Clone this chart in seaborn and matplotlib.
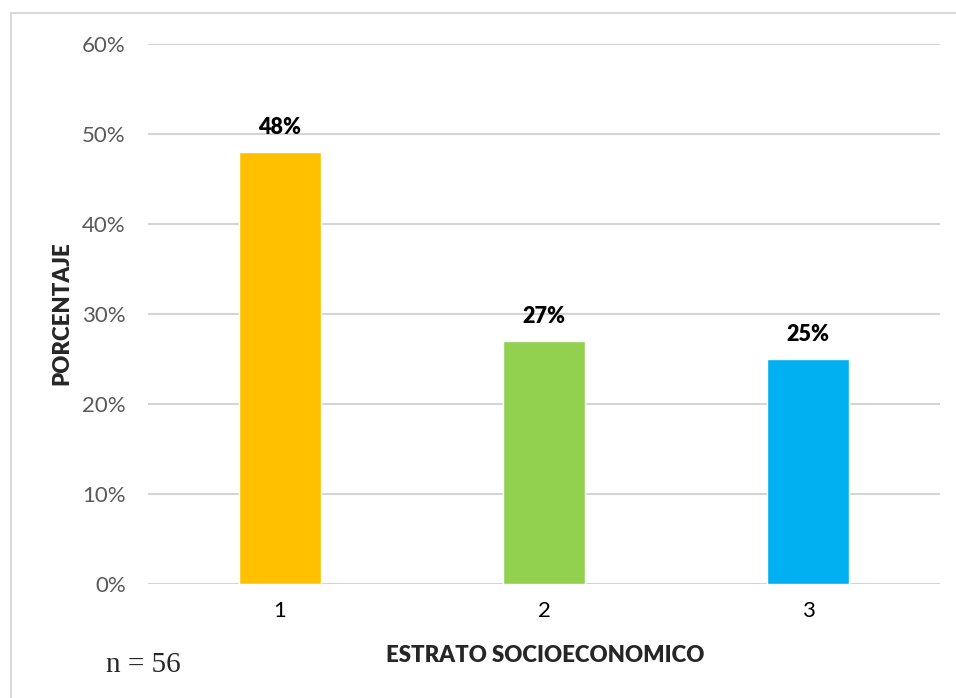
import matplotlib
matplotlib.use("Agg")
import matplotlib.pyplot as plt
import seaborn as sns
import pandas as pd
from matplotlib.patches import Rectangle

sns.set_theme(style="white")
plt.rcParams["font.family"] = ["Lato", "DejaVu Sans"]

# data
estratos = ["1", "2", "3"]
porcentajes = [0.48, 0.27, 0.25]
colores = ["#FFC000", "#92D050", "#00B0F0"]
y_ticks = [0, 0.1, 0.2, 0.3, 0.4, 0.5, 0.6]

df = pd.DataFrame({"estrato": estratos, "pct": porcentajes})

fig = plt.figure(figsize=(9.56, 6.98), dpi=100)
ax = fig.add_axes([148 / 956, 1 - 584 / 698, 792 / 956, 540 / 698])

sns.barplot(data=df, x="estrato", y="pct", hue="estrato", palette=colores,
            width=0.31, legend=False, saturation=1, ax=ax, zorder=3)

ax.set_ylim(0, 0.6)
ax.set_xlim(-0.5, 2.5)
ax.set_yticks(y_ticks)
ax.set_yticklabels([f"{int(round(t * 100))}%" for t in y_ticks],
                   color="#595959", fontsize=16)
ax.tick_params(axis="x", labelsize=16, colors="black", pad=12, length=0)
ax.tick_params(axis="y", pad=16, length=0)
ax.yaxis.grid(True, color="#d4d4d4", linewidth=1.5, zorder=0)
for s in ax.spines.values():
    s.set_visible(False)

for i, v in enumerate(porcentajes):
    ax.text(i, v + 0.016, f"{int(round(v * 100))}%", ha="center", va="bottom",
            fontsize=15.5, fontweight="heavy", color="black")

ax.set_xlabel("")
ax.set_ylabel("")
fig.text(545 / 956, 1 - 655 / 698, "ESTRATO SOCIOECONOMICO", ha="center", va="center",
         fontsize=16, fontweight="heavy")
fig.text(62 / 956, 1 - 313 / 698, "PORCENTAJE", ha="center", va="center",
         rotation=90, fontsize=16, fontweight="heavy")
fig.text(106 / 956, 1 - 665 / 698, "n = 56", ha="left", va="center",
         fontsize=21, family=["Liberation Serif", "DejaVu Serif"])

# outer frame (only left/top visible in reference)
fig.patches.append(Rectangle((11 / 956, -0.1), 1.2, 1 - 13 / 698 + 0.1,
                             transform=fig.transFigure, fill=False,
                             edgecolor="#d9d9d9", linewidth=1.5))

fig.savefig("out.png", dpi=100)
